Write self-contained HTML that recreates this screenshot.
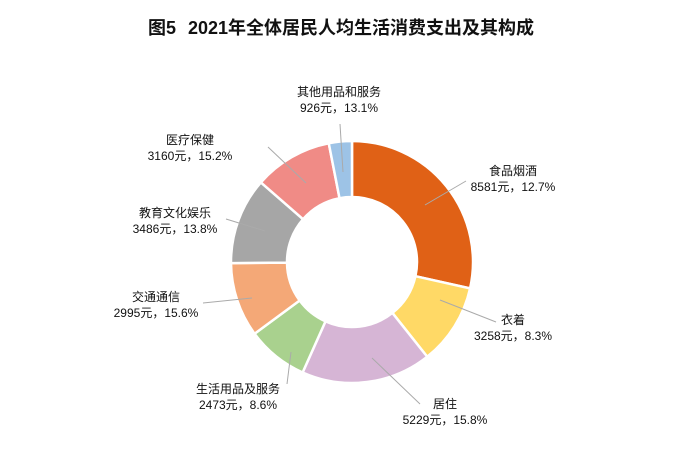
<!DOCTYPE html>
<html><head><meta charset="utf-8"><style>
html,body{margin:0;padding:0;background:#fff;}
svg text{font-family:"Liberation Sans","Noto Sans CJK SC",sans-serif;fill:#111;}
</style></head><body>
<svg id="s" width="688" height="464" viewBox="0 0 688 464" xmlns="http://www.w3.org/2000/svg">
<text x="148" y="34" font-size="18" font-weight="bold">图5</text>
<text x="188" y="34" font-size="18" font-weight="bold">2021年全体居民人均生活消费支出及其构成</text>
<g id="pie"></g>
<g stroke="#aaa" stroke-width="1" fill="none">
<path d="M340 124 L343 172"/>
<path d="M268 147 L306 183"/>
<path d="M466 181 L425 205"/>
<path d="M496 322 L440 300"/>
<path d="M420 404 L372 358"/>
<path d="M287 384 L291 352"/>
<path d="M203 303 L252 298"/>
<path d="M226 219 L265 231"/>
</g>
<g font-size="12" text-anchor="middle">
<text x="339" y="96">其他用品和服务</text><text x="339" y="112">926元，13.1%</text>
<text x="190" y="144">医疗保健</text><text x="190" y="160">3160元，15.2%</text>
<text x="513" y="175">食品烟酒</text><text x="513" y="191">8581元，12.7%</text>
<text x="175" y="217">教育文化娱乐</text><text x="175" y="233">3486元，13.8%</text>
<text x="156" y="301">交通通信</text><text x="156" y="317">2995元，15.6%</text>
<text x="513" y="324">衣着</text><text x="513" y="340">3258元，8.3%</text>
<text x="238" y="393">生活用品及服务</text><text x="238" y="409">2473元，8.6%</text>
<text x="445" y="408">居住</text><text x="445" y="424">5229元，15.8%</text>
</g>
</svg>
<script>
var cx=352,cy=262,R=121,r=65;
var d=[[8581,"#E06116"],[3258,"#FFD966"],[5229,"#D6B5D5"],[2473,"#A9D18E"],[2995,"#F4A877"],[3486,"#A6A6A6"],[3160,"#F08B86"],[926,"#9DC3E6"]];
var t=0;d.forEach(function(x){t+=x[0];});
var a=0,h="";
function p(ang,rad){return [cx+rad*Math.sin(ang),cy-rad*Math.cos(ang)];}
d.forEach(function(x){
var a2=a+x[0]/t*2*Math.PI,lg=(a2-a)>Math.PI?1:0;
var p1=p(a,R),p2=p(a2,R),p3=p(a2,r),p4=p(a,r);
h+='<path d="M'+p1+' A'+R+' '+R+' 0 '+lg+' 1 '+p2+' L'+p3+' A'+r+' '+r+' 0 '+lg+' 0 '+p4+' Z" fill="'+x[1]+'" stroke="#fff" stroke-width="2.5"/>';
a=a2;});
document.getElementById("pie").innerHTML=h;
</script>
</body></html>
